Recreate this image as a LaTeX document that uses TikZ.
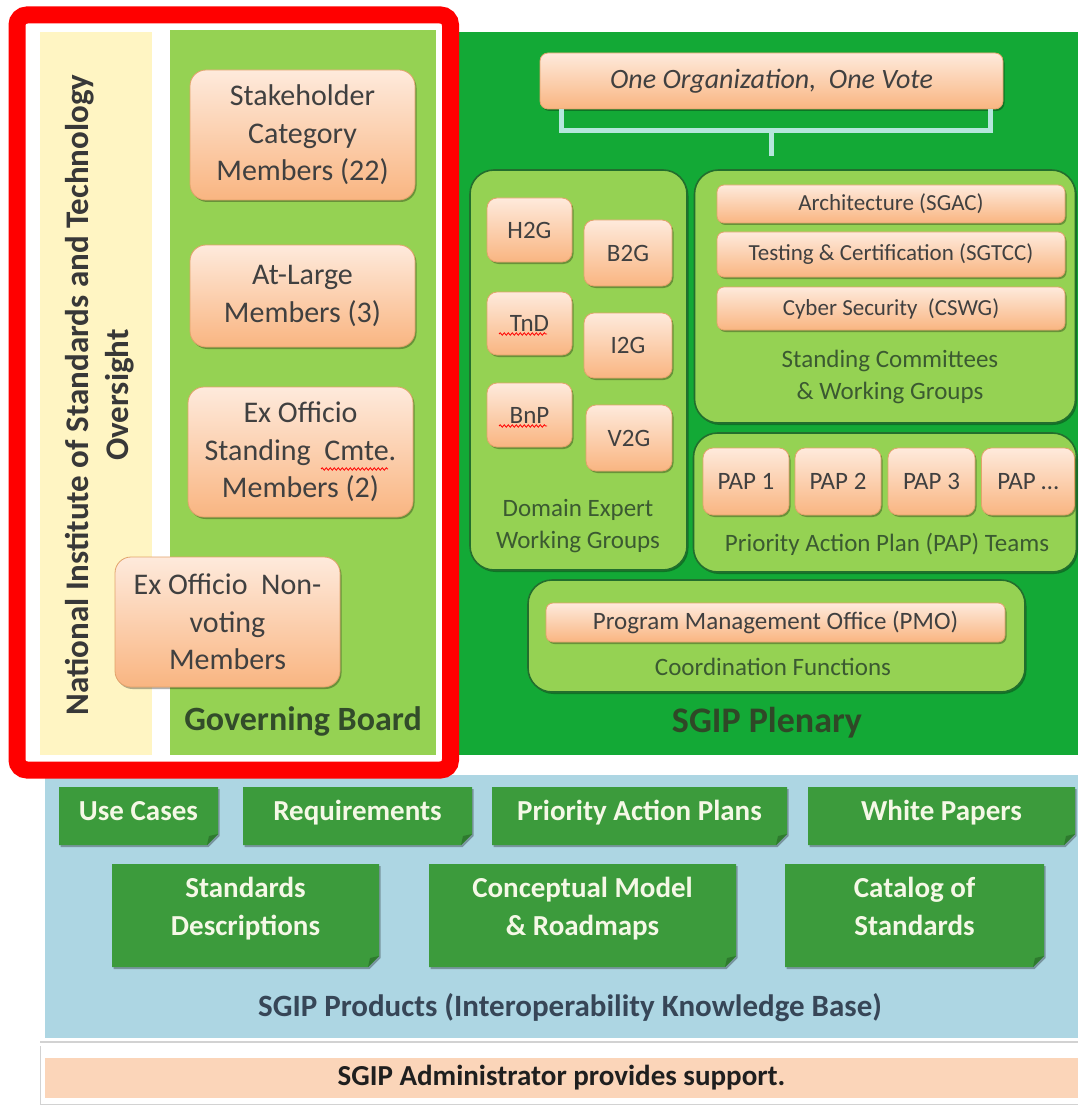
\documentclass[tikz,border=0pt]{standalone}
\usepackage{fontspec}
\setmainfont{Carlito}
\usetikzlibrary{shadows,decorations.pathmorphing}
\definecolor{orT}{HTML}{FEEADC}
\definecolor{orB}{HTML}{F9B581}
\definecolor{orE}{HTML}{E2A36B}
\definecolor{lgreen}{HTML}{95D253}
\definecolor{grpEdge}{HTML}{226E2D}
\definecolor{plen}{HTML}{13A936}
\definecolor{yel}{HTML}{FFF5C3}
\definecolor{blu}{HTML}{ADD6E3}
\definecolor{pgreen}{HTML}{3C9B3C}
\definecolor{pfold}{HTML}{2E7A2E}
\definecolor{ptxt}{HTML}{F5F8E6}
\definecolor{adm}{HTML}{FBD5B9}
\definecolor{lbltxt}{HTML}{3B5A31}
\definecolor{orTxt}{HTML}{404040}
\definecolor{prodTitle}{HTML}{374657}
\definecolor{brk}{HTML}{B4E6DC}
\definecolor{frame}{HTML}{FF0000}
\tikzset{
  shd/.style={drop shadow={shadow xshift=1.5pt, shadow yshift=-2pt, opacity=0.3, fill=black}},
  obox/.style={rounded corners=12pt, top color=orT, bottom color=orB, draw=orE, line width=0.8pt,
    text=orTxt, align=center, inner sep=0pt, shd},
  bigtxt/.style={font=\fontsize{30}{37.5}\selectfont},
  smtxt/.style={font=\fontsize{25}{30}\selectfont},
  cmtxt/.style={font=\fontsize{23}{28}\selectfont},
  grp/.style={rounded corners=24pt, fill=lgreen, draw=grpEdge, line width=1.6pt, inner sep=0pt, shd},
  lbl/.style={text=lbltxt, align=center, font=\fontsize{25}{32}\selectfont},
  prodfill/.style={fill=pgreen, shd},
  ptext/.style={text=ptxt, align=center, inner sep=0pt, font=\bfseries\fontsize{29}{38}\selectfont},
  brkline/.style={draw=brk, line width=4.5pt},
  squig/.style={draw=red, line width=0.8pt, decorate, decoration={snake, amplitude=1.2pt, segment length=4pt}}
}
% chamfered product shape: centre x, centre y, width, height
\newcommand\prodshape[4]{%
  \fill[prodfill] ({#1-#3/2},{#2-#4/2}) -- ({#1+#3/2},{#2-#4/2}) -- ({#1+#3/2},{#2+#4/2-11}) --
    ({#1+#3/2-11},{#2+#4/2}) -- ({#1-#3/2},{#2+#4/2}) -- cycle;
  \fill[pfold] ({#1+#3/2},{#2+#4/2-11}) -- ({#1+#3/2-11},{#2+#4/2}) -- ({#1+#3/2-9},{#2+#4/2-9}) -- cycle;}
\begin{document}
\begin{tikzpicture}[x=1pt,y=-1pt]
\useasboundingbox (0,0) rectangle (1078,1107);
\fill[white] (0,0) rectangle (1078,1107);

% ---- Left columns ----
\node[fill=yel, minimum width=112pt, minimum height=723pt, inner sep=0pt] (nistcol) at (96,393.5) {};
\node[fill=lgreen, minimum width=266pt, minimum height=725pt, inner sep=0pt] (gbcol) at (303,392.5) {};
\node[rotate=90, align=center, text=black!78, font=\bfseries\fontsize{33}{40}\selectfont] (nist) at (100,395)
  {National Institute of Standards and Technology\\Oversight};
\node[text=lbltxt!85!black, font=\bfseries\fontsize{34}{40}\selectfont] (gb) at (303,721) {Governing Board};

\node[obox, bigtxt, minimum width=225pt, minimum height=130pt, rounded corners=16pt] (stake) at (302.5,135)
  {Stakeholder\\Category\\Members (22)};
\node[obox, bigtxt, minimum width=225pt, minimum height=102pt, rounded corners=16pt] (atlarge) at (302.5,296)
  {At-Large\\Members (3)};
\node[obox, bigtxt, minimum width=225pt, minimum height=130pt, rounded corners=16pt] (exstand) at (300.5,452)
  {Ex Officio\\Standing\ \ Cmte.\\Members (2)};
\node[obox, bigtxt, minimum width=225pt, minimum height=130pt, rounded corners=16pt] (exnon) at (227.5,622)
  {Ex Officio\ \ Non-\\voting\\Members};
\draw[squig] (321,469) -- (388,469);

% ---- Plenary ----
\node[fill=plen, minimum width=623pt, minimum height=723pt, inner sep=0pt] (plenary) at (766.5,393.5) {};
\node[text=lbltxt!80!black, font=\bfseries\fontsize{36}{40}\selectfont] (plenlbl) at (767,723) {SGIP Plenary};

\node[obox, minimum width=463pt, minimum height=56pt, rounded corners=8pt,
  font=\itshape\fontsize{28}{32}\selectfont] (oneorg) at (771.5,81) {One Organization,\ \ One Vote};
\coordinate (bstem) at (771.5,156);
\draw[brkline] ([xshift=22pt]oneorg.south west) |- ([yshift=-21pt]oneorg.south) -| ([xshift=-13pt]oneorg.south east);
\draw[brkline] ([yshift=-21pt]oneorg.south) -- (bstem);

% Domain expert group
\node[grp, minimum width=217pt, minimum height=400pt] (domain) at (578.5,370) {};
\node[obox, smtxt, rounded corners=10pt, minimum width=85pt, minimum height=64pt] (h2g) at (529.5,230) {H2G};
\node[obox, smtxt, rounded corners=10pt, minimum width=88pt, minimum height=66pt] (b2g) at (628,253) {B2G};
\node[obox, smtxt, rounded corners=10pt, minimum width=85pt, minimum height=63pt] (tnd) at (529.5,323.5) {TnD};
\node[obox, smtxt, rounded corners=10pt, minimum width=88pt, minimum height=65pt] (i2g) at (628,345.5) {I2G};
\node[obox, smtxt, rounded corners=10pt, minimum width=85pt, minimum height=64pt] (bnp) at (529.5,415) {BnP};
\node[obox, smtxt, rounded corners=10pt, minimum width=86pt, minimum height=66pt] (v2g) at (629,438) {V2G};
\draw[squig] (499,334) -- (547,334);
\draw[squig] (499,426) -- (547,426);
\node[lbl] (domlbl) at (578,526) {Domain Expert\\Working Groups};

% Standing committees group
\node[grp, minimum width=381pt, minimum height=253pt] (standing) at (885,296.5) {};
\node[obox, cmtxt, rounded corners=7pt, minimum width=348pt, minimum height=38pt] (arch) at (891,204) {Architecture (SGAC)};
\node[obox, cmtxt, rounded corners=7pt, minimum width=348pt, minimum height=45pt] (test) at (891,254.5) {Testing \& Certification (SGTCC)};
\node[obox, cmtxt, rounded corners=7pt, minimum width=348pt, minimum height=43pt] (cyber) at (891,308.5) {Cyber Security\ \ (CSWG)};
\node[lbl] (stdlbl) at (890,377) {Standing Committees\\\& Working Groups};

% PAP group
\node[grp, minimum width=383pt, minimum height=139pt] (papgrp) at (885,502.5) {};
\node[obox, smtxt, rounded corners=10pt, minimum width=86pt, minimum height=67pt] (pap1) at (746,481.5) {PAP 1};
\node[obox, smtxt, rounded corners=10pt, minimum width=86pt, minimum height=67pt] (pap2) at (838,481.5) {PAP 2};
\node[obox, smtxt, rounded corners=10pt, minimum width=87pt, minimum height=67pt] (pap3) at (931.5,481.5) {PAP 3};
\node[obox, smtxt, rounded corners=10pt, minimum width=93pt, minimum height=67pt] (papn) at (1028,481.5) {PAP \dots};
\node[lbl] (paplbl) at (887,544) {Priority Action Plan (PAP) Teams};

% Coordination group
\node[grp, minimum width=497pt, minimum height=112pt] (coord) at (776.5,636) {};
\node[obox, smtxt, rounded corners=7pt, minimum width=459pt, minimum height=39pt] (pmo) at (775.5,622.5) {Program Management Office (PMO)};
\node[lbl] (coordlbl) at (773,667) {Coordination Functions};

% ---- Products ----
\draw[gray!35, line width=1.5pt] (40,1042) -- (1078,1042);
\node[fill=blu, minimum width=1033pt, minimum height=263pt, inner sep=0pt] (products) at (561.5,906.5) {};
\prodshape{138.5}{816}{159}{58}
\prodshape{357.5}{816}{229}{58}
\prodshape{639.5}{816}{295}{58}
\prodshape{941.5}{816}{267}{58}
\prodshape{245.5}{915.5}{267}{103}
\prodshape{582.5}{915.5}{307}{103}
\prodshape{914.5}{915.5}{259}{103}
\node[ptext] (usecases) at (138.5,812.4) {\strut Use Cases};
\node[ptext] (req) at (357.5,812.4) {\strut Requirements};
\node[ptext] (paps) at (639.5,812.4) {\strut Priority Action Plans};
\node[ptext] (white) at (941.5,812.4) {\strut White Papers};
\node[ptext] (stddesc) at (245.5,908.4) {\strut Standards\\\strut Descriptions};
\node[ptext] (concept) at (582.5,908.4) {\strut Conceptual Model\\\strut\& Roadmaps};
\node[ptext] (catalog) at (914.5,908.4) {\strut Catalog of\\\strut Standards};
\node[text=prodTitle, font=\bfseries\fontsize{31}{36}\selectfont] (prodlbl) at (570,1008)
  {SGIP Products (Interoperability Knowledge Base)};

% ---- Administrator ----
\draw[gray!35, line width=1pt] (40,1046) -- (40,1104) -- (1078,1104);
\node[fill=adm, minimum width=1033pt, minimum height=40pt, inner sep=0pt,
  text=black!88, font=\bfseries\fontsize{29}{34}\selectfont] (admin) at (561.5,1078) {SGIP Administrator provides support.};

% ---- Red frame ----
\draw[frame, line width=17pt, rounded corners=10pt] (17,15) rectangle (450.5,770);
\end{tikzpicture}
\end{document}
